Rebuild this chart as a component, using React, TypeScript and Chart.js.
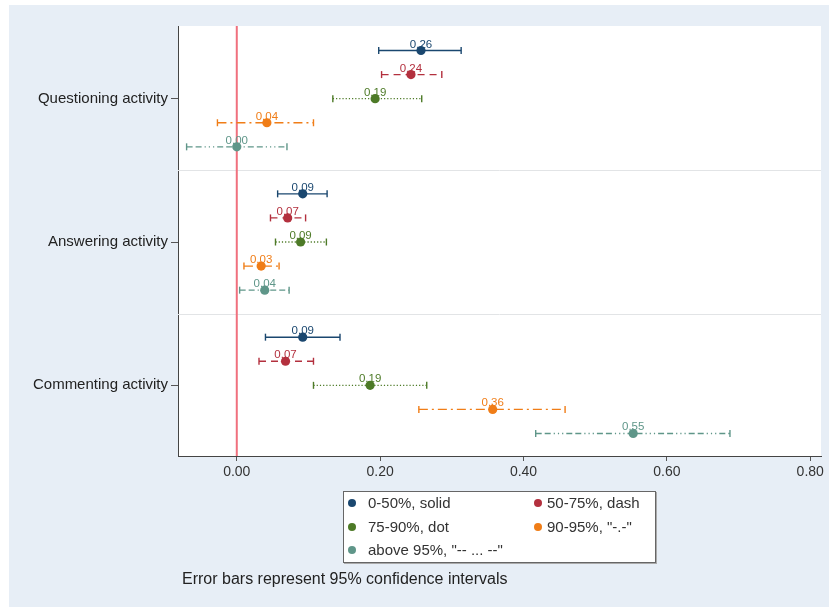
import React, { useEffect, useRef } from 'react';
import { Chart, registerables } from 'chart.js';

Chart.register(...registerables);

// ---------- data ----------
const categories = ['Questioning activity', 'Answering activity', 'Commenting activity'];
const seriesNames = ['0-50%, solid', '50-75%, dash', '75-90%, dot', '90-95%, "-.-"', 'above 95%, "-- ... --"'];

// point estimates, one value per category (Questioning, Answering, Commenting)
const est0to50 = [0.257, 0.092, 0.092];
const lo0to50 = [0.198, 0.057, 0.04];
const hi0to50 = [0.313, 0.126, 0.144];

const est50to75 = [0.243, 0.071, 0.068];
const lo50to75 = [0.202, 0.047, 0.031];
const hi50to75 = [0.286, 0.096, 0.107];

const est75to90 = [0.193, 0.089, 0.186];
const lo75to90 = [0.134, 0.054, 0.107];
const hi75to90 = [0.258, 0.125, 0.265];

const est90to95 = [0.042, 0.034, 0.357];
const lo90to95 = [-0.027, 0.01, 0.254];
const hi90to95 = [0.107, 0.059, 0.458];

const estAbove95 = [0.0, 0.039, 0.553];
const loAbove95 = [-0.07, 0.004, 0.417];
const hiAbove95 = [0.07, 0.073, 0.688];

const xTicks = [0, 0.2, 0.4, 0.6, 0.8];
const referenceLine = 0;
const footnote = 'Error bars represent 95% confidence intervals';

// ---------- styles ----------
const estimates = [est0to50, est50to75, est75to90, est90to95, estAbove95];
const lows = [lo0to50, lo50to75, lo75to90, lo90to95, loAbove95];
const highs = [hi0to50, hi50to75, hi75to90, hi90to95, hiAbove95];
const seriesColors = ['#1a476f', '#b3303e', '#4d7a27', '#f07d17', '#5f9689'];
const seriesDash: number[][] = [[], [7, 5], [1.2, 2], [9, 4, 2, 4], [6, 3, 6, 3, 1.2, 3, 1.2, 3, 1.2, 3]];
const rowGap = 0.168;
const FONT = "'Liberation Sans', Arial, sans-serif";
const BG = '#e7eef6';

export default function App() {
  const ref = useRef<HTMLCanvasElement>(null);

  useEffect(() => {
    document.body.style.margin = '5px 0 0 9px';
    const canvas = ref.current;
    if (!canvas) return;

    const datasets: any[] = [];
    // error bars
    estimates.forEach((_, s) => {
      categories.forEach((__, c) => {
        const y = c + (s - 2) * rowGap;
        datasets.push({
          kind: 'ci',
          data: [
            { x: lows[s][c], y },
            { x: highs[s][c], y },
          ],
          showLine: true,
          borderColor: seriesColors[s],
          borderWidth: 1.4,
          borderDash: seriesDash[s],
          pointStyle: 'line',
          rotation: 90,
          pointRadius: 3.5,
          pointHoverRadius: 3.5,
          pointBorderColor: seriesColors[s],
          pointBorderWidth: 1.4,
          order: 2,
        });
      });
    });
    // point estimates
    estimates.forEach((est, s) => {
      datasets.push({
        kind: 'est',
        data: est.map((v, c) => ({ x: v, y: c + (s - 2) * rowGap })),
        showLine: false,
        pointStyle: 'circle',
        pointRadius: 4.6,
        pointHoverRadius: 4.6,
        backgroundColor: seriesColors[s],
        borderColor: seriesColors[s],
        borderWidth: 0,
        order: 1,
      });
    });

    const decor = {
      id: 'decor',
      beforeDraw(chart: any) {
        const { ctx, chartArea } = chart;
        ctx.save();
        ctx.fillStyle = '#ffffff';
        ctx.fillRect(chartArea.left, chartArea.top, chartArea.right - chartArea.left, chartArea.bottom - chartArea.top);
        ctx.restore();
      },
      beforeDatasetsDraw(chart: any) {
        const { ctx, chartArea, scales } = chart;
        ctx.save();
        ctx.strokeStyle = '#e2e4e6';
        ctx.lineWidth = 1;
        for (let c = 0; c < categories.length - 1; c++) {
          const py = Math.round(scales.y.getPixelForValue(c + 0.5)) + 0.5;
          ctx.beginPath();
          ctx.moveTo(chartArea.left, py);
          ctx.lineTo(chartArea.right, py);
          ctx.stroke();
        }
        const px = scales.x.getPixelForValue(referenceLine);
        ctx.strokeStyle = '#f0707e';
        ctx.lineWidth = 2;
        ctx.beginPath();
        ctx.moveTo(px, chartArea.top);
        ctx.lineTo(px, chartArea.bottom);
        ctx.stroke();
        ctx.restore();
      },
      afterDatasetsDraw(chart: any) {
        const { ctx } = chart;
        ctx.save();
        ctx.font = `11.5px ${FONT}`;
        ctx.textAlign = 'center';
        ctx.textBaseline = 'alphabetic';
        chart.data.datasets.forEach((ds: any, i: number) => {
          if (ds.kind !== 'est') return;
          const meta = chart.getDatasetMeta(i);
          meta.data.forEach((el: any, j: number) => {
            ctx.fillStyle = ds.backgroundColor;
            ctx.fillText(ds.data[j].x.toFixed(2), el.x, el.y - 3);
          });
        });
        ctx.restore();
      },
    };

    const chart = new Chart(canvas, {
      type: 'scatter',
      data: { datasets },
      options: {
        animation: false,
        responsive: false,
        devicePixelRatio: 1,
        events: [],
        layout: { padding: { left: 0, top: 21, right: 8, bottom: 121 } },
        plugins: { legend: { display: false }, tooltip: { enabled: false } },
        scales: {
          x: {
            type: 'linear',
            min: -0.082,
            max: 0.815,
            afterBuildTicks: (scale: any) => {
              scale.ticks = xTicks.map((v) => ({ value: v }));
            },
            afterFit: (scale: any) => {
              scale.height = 30;
            },
            ticks: {
              callback: (v: any) => Number(v).toFixed(2),
              color: '#333',
              font: { family: FONT, size: 14 },
              padding: 3,
              maxRotation: 0,
            },
            grid: { drawOnChartArea: false, drawTicks: true, tickLength: 5, tickColor: '#555' },
            border: { display: true, color: '#444', width: 1 },
          },
          y: {
            type: 'linear',
            min: -0.507,
            max: 2.493,
            reverse: true,
            afterBuildTicks: (scale: any) => {
              scale.ticks = categories.map((_, i) => ({ value: i }));
            },
            afterFit: (scale: any) => {
              scale.width = 169;
            },
            ticks: {
              callback: (v: any) => categories[Math.round(Number(v))] ?? '',
              color: '#222',
              font: { family: FONT, size: 15 },
              padding: 3,
            },
            grid: { drawOnChartArea: false, drawTicks: true, tickLength: 7, tickColor: '#555' },
            border: { display: true, color: '#444', width: 1 },
          },
        },
      } as any,
      plugins: [decor],
    });

    return () => chart.destroy();
  }, []);

  return (
    <div style={{ position: 'relative', width: 820, height: 602, background: BG, fontFamily: FONT, overflow: 'hidden' }}>
      <canvas ref={ref} width={820} height={602} style={{ position: 'absolute', left: 0, top: 0 }} />
      <div
        style={{
          position: 'absolute',
          left: 334,
          top: 486,
          width: 313,
          height: 72,
          boxSizing: 'border-box',
          border: '1px solid #666',
          boxShadow: '1px 1px 0 #aaa',
          background: '#fff',
        }}
      >
        {seriesNames.map((name, i) => {
          const col = i % 2;
          const row = Math.floor(i / 2);
          const dotX = col === 0 ? 8 : 194;
          const textX = col === 0 ? 24 : 203;
          const cy = 11 + row * 23.5;
          return (
            <React.Fragment key={name}>
              <div
                style={{
                  position: 'absolute',
                  left: dotX - 4,
                  top: cy - 4,
                  width: 8,
                  height: 8,
                  borderRadius: '50%',
                  background: seriesColors[i],
                }}
              />
              <div
                style={{
                  position: 'absolute',
                  left: textX,
                  top: cy - 9,
                  height: 18,
                  lineHeight: '18px',
                  fontSize: 15,
                  color: '#333',
                  whiteSpace: 'nowrap',
                }}
              >
                {name}
              </div>
            </React.Fragment>
          );
        })}
      </div>
      <div
        style={{
          position: 'absolute',
          left: 173,
          top: 564,
          lineHeight: '20px',
          fontSize: 16,
          color: '#222',
          whiteSpace: 'nowrap',
        }}
      >
        {footnote}
      </div>
    </div>
  );
}
